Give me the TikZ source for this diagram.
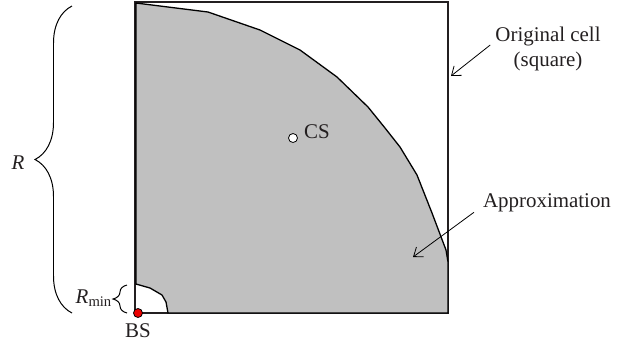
\documentclass[tikz,border=0pt]{standalone}
\usepackage{fontspec}
\setmainfont{Liberation Serif}
\usepackage{tikz}
\usetikzlibrary{arrows.meta, positioning, decorations.pathreplacing}
\definecolor{regiongray}{RGB}{192,192,192}
\definecolor{bsred}{RGB}{235,0,0}
\definecolor{ink}{RGB}{35,31,32}
\tikzset{
  cell/.style={draw=ink, line width=1.1pt},
  region/.style={fill=regiongray, draw=black, line width=1.3pt, line join=miter},
  station/.style={circle, draw=black, line width=0.8pt, minimum size=9bp, inner sep=0pt},
  caption/.style={font=\fontsize{21}{25}\selectfont, text=ink, inner sep=2pt, align=center},
  pointer/.style={-{Straight Barb[length=8bp,width=12bp]}, line width=0.8pt},
  span brace/.style={decorate, decoration={brace, amplitude=#1}, line width=1pt},
}

\begin{document}
\begin{tikzpicture}[x=1bp, y=-1bp]
  \useasboundingbox (0,0) rectangle (633,347);

  % original square cell and its approximation
  \draw[cell] (135,2) rectangle (448,313);
  \draw[region] (136,284) -- (136,3) -- (208,12) -- (260,30) -- (300,50)
    -- (337,77) -- (368,107) -- (385,128) -- (400,147) -- (417,175)
    -- (432,213) -- (446,250) -- (448,262) -- (448,313) -- (168,313)
    -- (166,302) -- (162,295) -- (150,288) -- cycle;

  % stations
  \node[station, fill=white] (cs) at (293,138) {};
  \node[caption, right=4bp of cs, yshift=6bp] (cslabel) {CS};
  \node[station, fill=bsred] (bs) at (138,313) {};
  \node[caption, below=4bp of bs] (bslabel) {BS};

  % braces
  \coordinate (rtop) at (72,6);
  \coordinate (rbot) at (72,313);
  \draw[span brace=37bp] (rbot) -- (rtop);
  \node[caption, font=\fontsize{21}{25}\selectfont\itshape] (rlabel) at (18,163) {R};
  \coordinate (mtop) at (127,285);
  \coordinate (mbot) at (127,313);
  \draw[span brace=14bp] (mbot) -- (mtop);
  \node[caption, anchor=east, inner sep=1pt] (rminlabel) at (113,298) {\textit{R}\textsubscript{min}};

  % callouts
  \node[caption] (orig) at (548,49) {Original cell\\(square)};
  \coordinate (celledge) at (451,76);
  \draw[pointer] ([xshift=-3bp, yshift=4bp]orig.west) -- (celledge);
  \node[caption] (approx) at (547,203) {Approximation};
  \coordinate (approxpt) at (413,257);
  \draw[pointer] ([xshift=-7bp, yshift=2bp]approx.south west) -- (approxpt);
\end{tikzpicture}
\end{document}
